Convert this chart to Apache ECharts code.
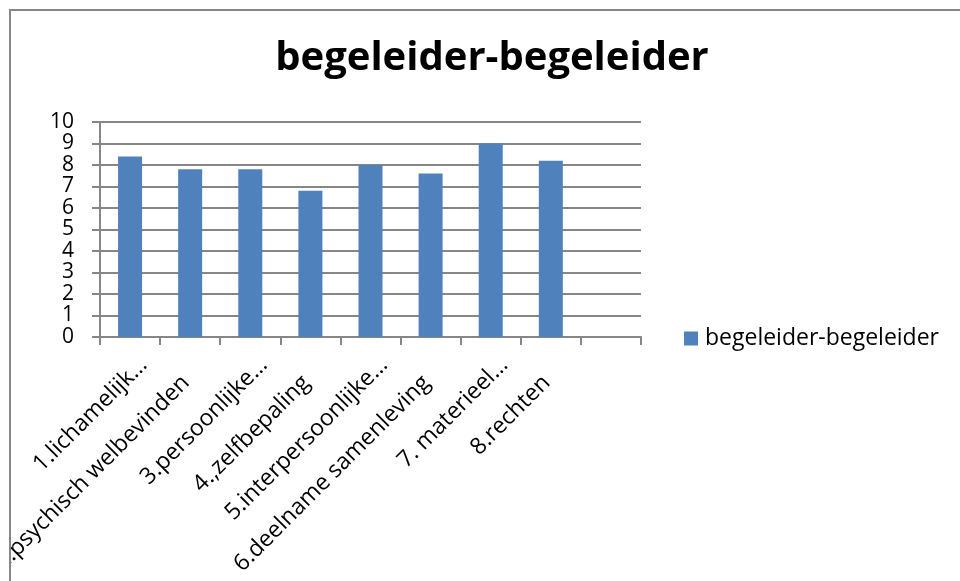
<!DOCTYPE html>
<html>
<head>
<meta charset="utf-8">
<script src="https://cdn.jsdelivr.net/npm/echarts@6/dist/echarts.min.js"></script>
<style>
  html, body { margin: 0; padding: 0; background: #fff; overflow: hidden; }
  /* Excel-style frame: only the top and left edges are visible in the crop */
  #frame { position: absolute; left: 9px; top: 9px; width: 951px; height: 572px;
           border-left: 2px solid #868686; border-top: 2px solid #868686; }
  #chart { width: 949px; height: 570px; }
</style>
</head>
<body>
<div id="frame"><div id="chart"></div></div>
<script>
const TITLE = "begeleider-begeleider";
const SERIES_NAME = "begeleider-begeleider";
const CATEGORIES = [
  "1.lichamelijk…",
  "2.psychisch welbevinden",
  "3.persoonlijke…",
  "4.,zelfbepaling",
  "5.interpersoonlijke…",
  "6.deelname samenleving",
  "7. materieel…",
  "8.rechten",
  "",
];
const VALUES = [8.4, 7.8, 7.8, 6.8, 8.0, 7.6, 9.0, 8.2, null];
const Y_MIN = 0;
const Y_MAX = 10;
const Y_STEP = 1;

const FONT = "'Open Sans', Lato, sans-serif";
const GRID_COLOR = "#868686";

// Excel lays out the truncated ("…") labels a bit further along the text direction
const xData = CATEGORIES.map((c) =>
  c.endsWith("…") ? { value: c, textStyle: { padding: [0, -19, 0, 0] } } : c
);

const chart = echarts.init(document.getElementById("chart"));
chart.setOption({
  animation: false,
  backgroundColor: "#fff",
  title: {
    text: TITLE,
    left: 476,
    top: 23,
    textAlign: "center",
    textStyle: { fontFamily: FONT, fontWeight: "bold", fontSize: 40, color: "#000" },
  },
  legend: {
    left: 668,
    top: 311,
    itemWidth: 14,
    itemHeight: 14,
    icon: "rect",
    textStyle: { fontFamily: FONT, fontSize: 23, color: "#000", padding: [0, 0, 0, 2] },
    data: [SERIES_NAME],
  },
  grid: {
    left: 89, top: 111, width: 541, height: 215,
    containLabel: false,
    outerBoundsMode: "none", // the 2nd label runs off the left edge, as in the original
  },
  xAxis: {
    type: "category",
    data: xData,
    boundaryGap: true,
    axisLine: { lineStyle: { color: GRID_COLOR, width: 2 } },
    axisTick: { show: true, length: 8, lineStyle: { color: GRID_COLOR, width: 2 } },
    axisLabel: {
      interval: 0,
      rotate: 45,
      margin: 38,
      padding: [0, 6, 0, 0],
      fontFamily: FONT,
      fontSize: 23,
      color: "#000",
    },
  },
  yAxis: {
    type: "value",
    min: Y_MIN,
    max: Y_MAX,
    interval: Y_STEP,
    axisLine: { show: true, lineStyle: { color: GRID_COLOR, width: 2 } },
    axisTick: { show: true, length: 8, lineStyle: { color: GRID_COLOR, width: 2 } },
    splitLine: { lineStyle: { color: GRID_COLOR, width: 2 } },
    axisLabel: { margin: 26, fontFamily: FONT, fontSize: 21, color: "#000" },
  },
  series: [
    {
      name: SERIES_NAME,
      type: "bar",
      data: VALUES,
      barWidth: 24,
      itemStyle: { color: "#4f81bd" },
    },
  ],
});
</script>
</body>
</html>
